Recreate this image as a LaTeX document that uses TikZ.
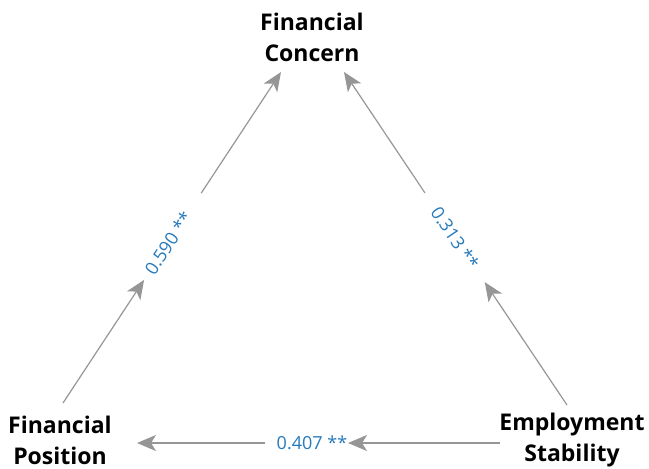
\documentclass[tikz,border=0pt]{standalone}
\usepackage{fontspec}
\setmainfont{Open Sans}
\usetikzlibrary{arrows.meta,calc}
\definecolor{arrgray}{RGB}{150,150,150}
\definecolor{labblue}{RGB}{38,121,186}
\begin{document}
\begin{tikzpicture}[x=1pt,y=-1pt,
  concept/.style={font=\fontsize{23}{31}\selectfont\bfseries, align=center, inner sep=0pt, text=black},
  coef/.style={font=\fontsize{18}{20}\selectfont, text=labblue, inner sep=0pt},
  arr/.style={draw=arrgray, line width=1.2pt, -{Stealth[length=19pt,width=16pt,inset=5pt]}}]
\useasboundingbox (0,0) rectangle (649,469);
\node[concept] (fc) at (312,37) {Financial\\Concern};
\node[concept] (fp) at (60,440) {Financial\\Position};
\node[concept] (es) at (572,440) {Employment\\Stability};
\coordinate (A) at (63,403); \coordinate (B) at (281,72);
\coordinate (C) at (567,405); \coordinate (D) at (344,72);
\coordinate (E) at (500,443); \coordinate (F) at (137,443);
\path (A) -- (B) node[coef,sloped,pos=0.483] (l1) {0.590 **};
\path (C) -- (D) node[coef,sloped,pos=0.5015] (l2) {0.313 **};
\path (E) -- (F) node[coef,pos=0.518] (l3) {0.407 **};
\draw[arr] (A) -- ($(A)!0.372!(B)$);
\draw[arr] ($(A)!0.634!(B)$) -- (B);
\draw[arr] (C) -- ($(C)!0.369!(D)$);
\draw[arr] ($(C)!0.637!(D)$) -- (D);
\draw[arr] (E) -- ($(E)!0.4187!(F)$);
\draw[arr] ($(E)!0.647!(F)$) -- (F);
\end{tikzpicture}
\end{document}
